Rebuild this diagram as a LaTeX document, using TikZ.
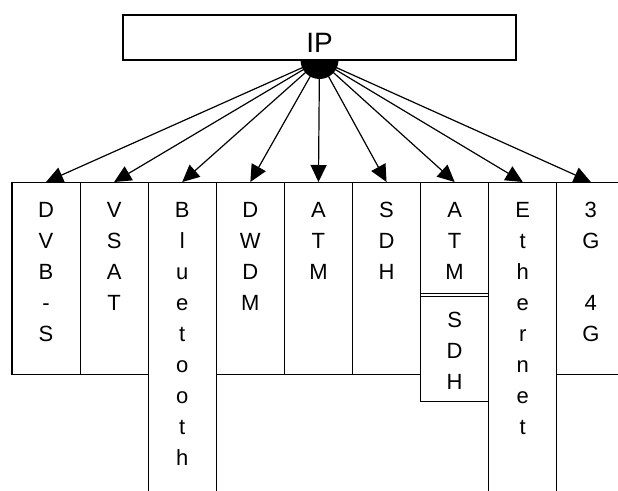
\documentclass[tikz,border=0pt]{standalone}
\usepackage{fontspec}
\setmainfont{Liberation Sans}
\usetikzlibrary{arrows.meta,positioning}

\begin{document}
\begin{tikzpicture}[x=1pt,y=-1pt,
  box/.style={draw,line width=1.2pt,fill=white,minimum width=68.1pt,anchor=north,inner sep=0pt},
  letters/.style={align=center,inner sep=0pt,font=\fontsize{22}{31}\selectfont},
  link/.style={-{Triangle[length=17pt,width=16pt]},line width=1.2pt}]
  \clip (0,0) rectangle (618,490);
  % lower layer columns
  \node[box,minimum height=192pt] (dvbs) at (46.05,182) {};
  \node[box,minimum height=192pt] (vsat) at (114.15,182) {};
  \node[box,minimum height=320pt] (bt) at (182.25,182) {};
  \node[box,minimum height=192pt] (dwdm) at (250.35,182) {};
  \node[box,minimum height=192pt] (atm) at (318.45,182) {};
  \node[box,minimum height=192pt] (sdh) at (386.55,182) {};
  \node[box,minimum height=111pt] (atmsdh) at (454.65,182) {};
  \node[box,minimum height=105pt] (atmsdh-s) at (454.65,296) {};
  \node[box,minimum height=320pt] (eth) at (522.75,182) {};
  \node[box,minimum height=192pt] (mob) at (590.85,182) {};
  % vertical labels
  \node[letters,below=20pt of dvbs.north] (dvbs-t) {D\\V\\B\\-\\S};
  \node[letters,below=20pt of vsat.north] (vsat-t) {V\\S\\A\\T};
  \node[letters,below=20pt of bt.north] (bt-t) {B\\l\\u\\e\\t\\o\\o\\t\\h};
  \node[letters,below=20pt of dwdm.north] (dwdm-t) {D\\W\\D\\M};
  \node[letters,below=20pt of atm.north] (atm-t) {A\\T\\M};
  \node[letters,below=20pt of sdh.north] (sdh-t) {S\\D\\H};
  \node[letters,below=20pt of atmsdh.north] (atmsdh-t) {A\\T\\M};
  \node[letters,below=16pt of atmsdh-s.north] (atmsdh-st) {S\\D\\H};
  \node[letters,below=20pt of eth.north] (eth-t) {E\\t\\h\\e\\r\\n\\e\\t};
  \node[letters,below=20pt of mob.north] (mob-t) {3\\G\\~\\4\\G};
  % fan out from IP
  \coordinate (hubc) at (319.5,60);
  \foreach \col in {dvbs,vsat,bt,dwdm,atm,sdh,atmsdh,eth,mob}
    \draw[link] (hubc) -- (\col.north);
  \node[circle,fill=black,inner sep=0pt,minimum size=38pt] (hub) at (hubc) {};
  % top layer
  \node[draw,line width=1.2pt,fill=white,minimum width=393pt,minimum height=45pt,
    text height=29pt,font=\fontsize{28}{34}\selectfont] (ip) at (319.5,37.5) {IP};
\end{tikzpicture}
\end{document}
